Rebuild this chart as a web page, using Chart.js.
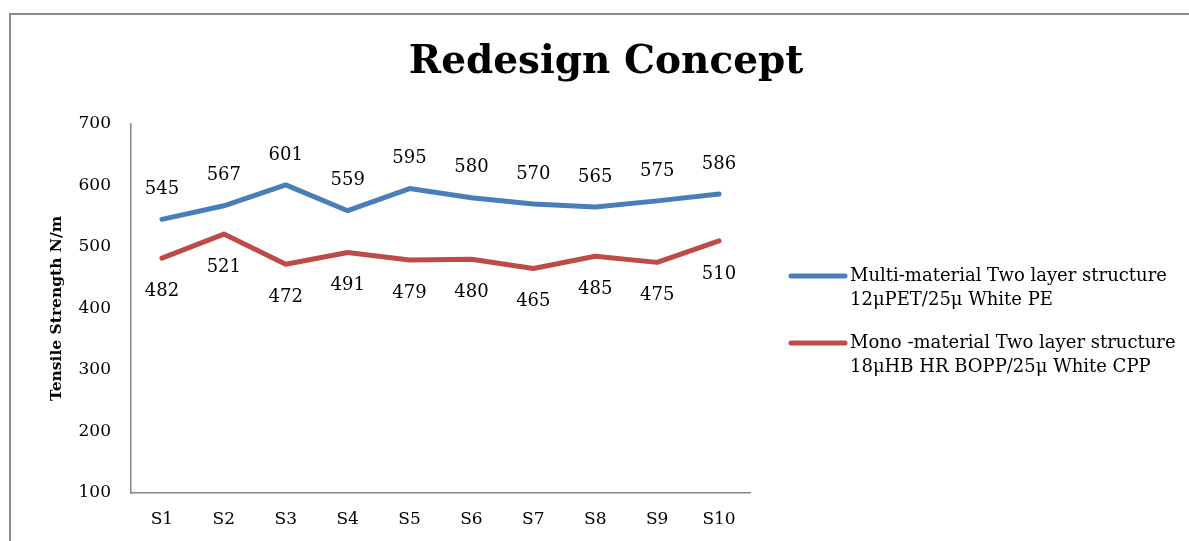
<!DOCTYPE html>
<html>
<head>
<meta charset="utf-8">
<title>Redesign Concept</title>
<script src="https://cdn.jsdelivr.net/npm/chart.js@4.4.1/dist/chart.umd.min.js"></script>
<style>
  html, body { margin: 0; padding: 0; background: #fff; }
  #wrap { position: relative; width: 1189px; height: 541px; overflow: hidden; }
  #frame { position: absolute; left: 9px; top: 13px; width: 1200px; height: 600px;
           border-left: 2px solid #8c8c8c; border-top: 2px solid #8c8c8c; }
  canvas { position: absolute; left: 0; top: 0; }
</style>
</head>
<body>
<div id="wrap">
  <div id="frame"></div>
  <canvas id="chart" width="1189" height="541"></canvas>
</div>
<script>
// Samples and measured tensile strength (N/m)
const samples = ["S1", "S2", "S3", "S4", "S5", "S6", "S7", "S8", "S9", "S10"];
const multiMaterial = [545, 567, 601, 559, 595, 580, 570, 565, 575, 586];
const monoMaterial = [482, 521, 472, 491, 479, 480, 465, 485, 475, 510];
const multiLabel = ["Multi-material Two layer structure", "12\u03bcPET/25\u03bc White PE"];
const monoLabel = ["Mono -material Two layer structure", "18\u03bcHB HR BOPP/25\u03bc White CPP"];
const chartTitle = "Redesign Concept";

const FONT = "'DejaVu Serif', 'Liberation Serif', serif";
const BLUE = "#4a7ebb";
const RED = "#be4b48";

// big title centred over the whole frame
const bigTitle = {
  id: "bigTitle",
  afterDraw(chart) {
    const ctx = chart.ctx;
    ctx.save();
    ctx.font = "bold 39px " + FONT;
    ctx.fillStyle = "#000";
    ctx.textAlign = "center";
    ctx.textBaseline = "middle";
    ctx.fillText(chartTitle, 606, 63);
    ctx.restore();
  }
};

// value labels: blue above the line, red below
const valueLabels = {
  id: "valueLabels",
  afterDatasetsDraw(chart) {
    const ctx = chart.ctx;
    ctx.save();
    ctx.font = "18px " + FONT;
    ctx.fillStyle = "#000";
    ctx.textAlign = "center";
    ctx.textBaseline = "middle";
    chart.data.datasets.forEach((ds, i) => {
      const meta = chart.getDatasetMeta(i);
      const dy = ds.labelPos === "above" ? -30 : 33;
      meta.data.forEach((pt, j) => {
        ctx.fillText(String(ds.data[j]), pt.x, pt.y + dy);
      });
    });
    ctx.restore();
  }
};

// legend on the right with two-line entries
const sideLegend = {
  id: "sideLegend",
  afterDraw(chart) {
    const ctx = chart.ctx;
    const x0 = 791, x1 = 845, tx = 850;
    const rows = [276, 343];
    ctx.save();
    ctx.font = "18px " + FONT;
    ctx.textBaseline = "middle";
    ctx.textAlign = "left";
    chart.data.datasets.forEach((ds, i) => {
      const y = rows[i];
      ctx.strokeStyle = ds.borderColor;
      ctx.lineWidth = 5;
      ctx.lineCap = "round";
      ctx.beginPath();
      ctx.moveTo(x0, y);
      ctx.lineTo(x1, y);
      ctx.stroke();
      ctx.fillStyle = "#000";
      ds.legendLines.forEach((line, k) => ctx.fillText(line, tx, y + k * 24));
    });
    ctx.restore();
  }
};

new Chart(document.getElementById("chart"), {
  type: "line",
  data: {
    labels: samples,
    datasets: [
      { label: multiLabel.join(" "), legendLines: multiLabel, labelPos: "above",
        data: multiMaterial, borderColor: BLUE, backgroundColor: BLUE,
        borderWidth: 5, pointRadius: 0, tension: 0, borderJoinStyle: "round", borderCapStyle: "round" },
      { label: monoLabel.join(" "), legendLines: monoLabel, labelPos: "below",
        data: monoMaterial, borderColor: RED, backgroundColor: RED,
        borderWidth: 5, pointRadius: 0, tension: 0, borderJoinStyle: "round", borderCapStyle: "round" }
    ]
  },
  options: {
    responsive: false,
    animation: false,
    layout: { padding: { left: 12, right: 439, top: 124, bottom: 0 } },
    plugins: {
      legend: { display: false },
      tooltip: { enabled: false },
      title: { display: false }
    },
    scales: {
      x: {
        offset: true,
        grid: { display: false, drawTicks: false },
        border: { display: true, color: "#868686", width: 1.5 },
        ticks: { color: "#000", font: { family: FONT, size: 17 }, padding: 16, maxRotation: 0 },
        afterFit(scale) { scale.height = 541 - 493; }
      },
      y: {
        min: 100,
        max: 700,
        grid: { display: false, drawTicks: false },
        border: { display: true, color: "#868686", width: 1.5 },
        ticks: { stepSize: 100, color: "#000", font: { family: FONT, size: 17 }, padding: 20 },
        title: {
          display: true,
          text: "Tensile Strength N/m",
          color: "#000",
          font: { family: FONT, size: 15.5, weight: "bold" },
          padding: { top: 36, bottom: 0 }
        },
        afterFit(scale) { scale.width = 131 - 12; }
      }
    }
  },
  plugins: [valueLabels, sideLegend, bigTitle]
});
</script>
</body>
</html>
